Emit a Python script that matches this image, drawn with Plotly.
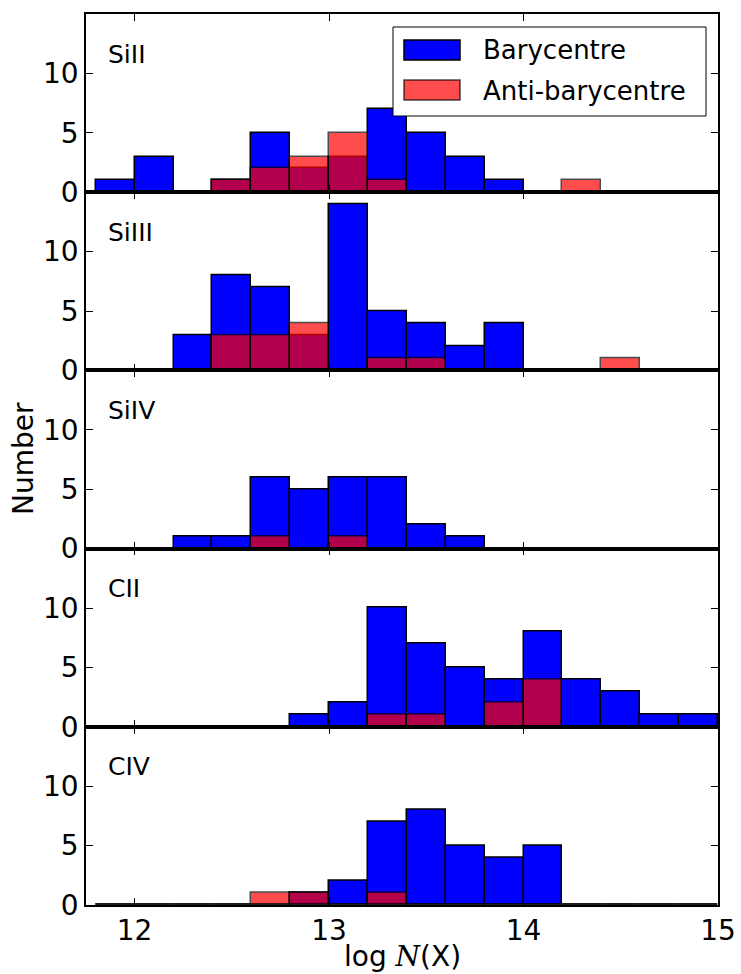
import plotly.graph_objects as go
from plotly.subplots import make_subplots

# ---- data -------------------------------------------------------------
bin_centers = [11.9, 12.1, 12.3, 12.5, 12.7, 12.9, 13.1, 13.3,
               13.5, 13.7, 13.9, 14.1, 14.3, 14.5, 14.7, 14.9]
bin_width = 0.2

ions = ["SiII", "SiIII", "SiIV", "CII", "CIV"]

siII_bary = [1, 3, 0, 1, 5, 2, 3, 7, 5, 3, 1, 0, 0, 0, 0, 0]
siII_anti = [0, 0, 0, 1, 2, 3, 5, 1, 0, 0, 0, 0, 1, 0, 0, 0]
siIII_bary = [0, 0, 3, 8, 7, 3, 14, 5, 4, 2, 4, 0, 0, 0, 0, 0]
siIII_anti = [0, 0, 0, 3, 3, 4, 0, 1, 1, 0, 0, 0, 0, 1, 0, 0]
siIV_bary = [0, 0, 1, 1, 6, 5, 6, 6, 2, 1, 0, 0, 0, 0, 0, 0]
siIV_anti = [0, 0, 0, 0, 1, 0, 1, 0, 0, 0, 0, 0, 0, 0, 0, 0]
cII_bary = [0, 0, 0, 0, 0, 1, 2, 10, 7, 5, 4, 8, 4, 3, 1, 1]
cII_anti = [0, 0, 0, 0, 0, 0, 0, 1, 1, 0, 2, 4, 0, 0, 0, 0]
cIV_bary = [0, 0, 0, 0, 0, 1, 2, 7, 8, 5, 4, 5, 0, 0, 0, 0]
cIV_anti = [0, 0, 0, 0, 1, 1, 0, 1, 0, 0, 0, 0, 0, 0, 0, 0]

bary = [siII_bary, siIII_bary, siIV_bary, cII_bary, cIV_bary]
anti = [siII_anti, siIII_anti, siIV_anti, cII_anti, cIV_anti]

x_ticks = [12, 13, 14, 15]
y_ticks = [0, 5, 10]
legend_names = ["Barycentre", "Anti-barycentre"]

# ---- figure -------------------------------------------------------------
W, H = 741, 974
ML, MR, MT, MB = 86, 23, 14, 69
FONT = "DejaVu Sans"

fig = make_subplots(rows=5, cols=1, shared_xaxes=True, vertical_spacing=0)

for i in range(5):
    fig.add_trace(go.Bar(x=bin_centers, y=bary[i], width=bin_width,
                         marker=dict(color="#0000FF",
                                     line=dict(color="black", width=1.5)),
                         name=legend_names[0], showlegend=False),
                  row=i + 1, col=1)
    fig.add_trace(go.Bar(x=bin_centers, y=anti[i], width=bin_width,
                         marker=dict(color="#FF0000", opacity=0.7,
                                     line=dict(color="black", width=1.5)),
                         name=legend_names[1], showlegend=False),
                  row=i + 1, col=1)

axis_common = dict(showline=True, linecolor="black", linewidth=1.5,
                   mirror="allticks", ticks="inside", ticklen=7,
                   tickwidth=1, tickcolor="black", showgrid=False,
                   zeroline=False, automargin=False,
                   tickfont=dict(family=FONT, size=28, color="black"))

for i in range(5):
    fig.update_xaxes(range=[11.75, 15], tickvals=x_ticks,
                     showticklabels=(i == 4), row=i + 1, col=1,
                     **axis_common)
    fig.update_yaxes(range=[0, 15], tickvals=y_ticks, row=i + 1, col=1,
                     **axis_common)

fig.update_xaxes(ticklabelstandoff=0, row=5, col=1)

# panel labels
for i, ion in enumerate(ions):
    xr = "x domain" if i == 0 else f"x{i+1} domain"
    yr = "y domain" if i == 0 else f"y{i+1} domain"
    fig.add_annotation(text=ion, xref=xr, yref=yr, x=0.032, y=0.775,
                       xanchor="left", yanchor="middle", showarrow=False,
                       font=dict(family=FONT, size=25, color="black"))

PW = W - ML - MR
PH = H - MT - MB


def px(xp):
    return (xp - ML) / PW


def py(yp):
    return (H - MB - yp) / PH


# axis titles
fig.add_annotation(text="Number", xref="paper", yref="paper",
                   x=px(24), y=py(459), textangle=-90, showarrow=False,
                   xanchor="center", yanchor="middle",
                   font=dict(family=FONT, size=28, color="black"))
fig.add_annotation(
    text="log <span style=\"font-family:'DejaVu Serif';font-style:italic\">N</span>(X)",
    xref="paper", yref="paper", x=0.5, y=py(956), showarrow=False,
    xanchor="center", yanchor="middle",
    font=dict(family=FONT, size=28, color="black"))

# legend box (drawn manually to match wide swatches)
fig.add_shape(type="rect", xref="paper", yref="paper",
              x0=px(393), x1=px(706), y0=py(116), y1=py(27),
              line=dict(color="black", width=1), fillcolor="white",
              layer="above")
fig.add_shape(type="rect", xref="paper", yref="paper",
              x0=px(404), x1=px(460), y0=py(60), y1=py(40),
              line=dict(color="black", width=1.5), fillcolor="#0000FF",
              layer="above")
fig.add_shape(type="rect", xref="paper", yref="paper",
              x0=px(404), x1=px(460), y0=py(100), y1=py(80),
              line=dict(color="rgba(0,0,0,0.7)", width=1.5),
              fillcolor="rgba(255,0,0,0.7)", layer="above")
fig.add_annotation(text=legend_names[0], xref="paper", yref="paper",
                   x=px(481), y=py(50), xanchor="left", yanchor="middle",
                   showarrow=False,
                   font=dict(family=FONT, size=26, color="black"))
fig.add_annotation(text=legend_names[1], xref="paper", yref="paper",
                   x=px(481), y=py(91), xanchor="left", yanchor="middle",
                   showarrow=False,
                   font=dict(family=FONT, size=26, color="black"))

fig.update_layout(width=W, height=H, barmode="overlay", bargap=0,
                  margin=dict(l=ML, r=MR, t=MT, b=MB, autoexpand=False),
                  plot_bgcolor="white", paper_bgcolor="white",
                  showlegend=False,
                  font=dict(family=FONT, color="black"))

fig.write_html("out.html")
